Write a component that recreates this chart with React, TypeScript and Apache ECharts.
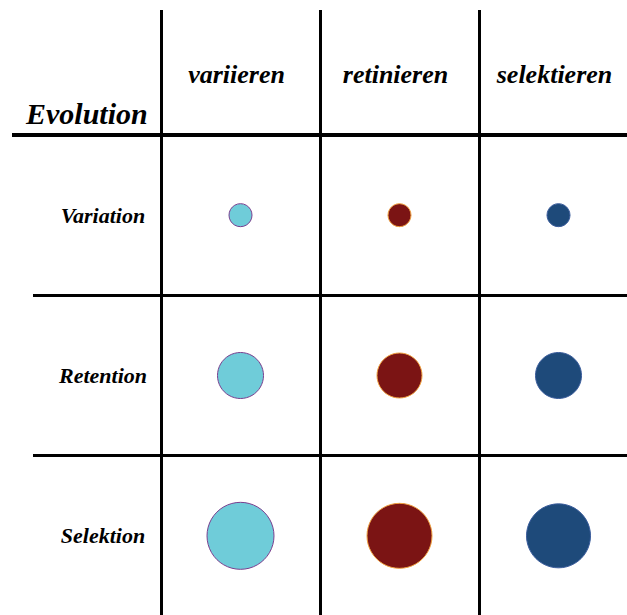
import React, { useEffect, useRef } from "react";
import * as echarts from "echarts";

const COLUMNS = ["variieren", "retinieren", "selektieren"];
const ROWS = ["Variation", "Retention", "Selektion"];
const TITLE = "Evolution";

// circle diameters per column, by row (Variation, Retention, Selektion)
const VARIIEREN_SIZES = [23, 46, 67];
const RETINIEREN_SIZES = [23, 45, 65];
const SELEKTIEREN_SIZES = [23, 46, 64];

const FILLS = ["#6FCCD9", "#7B1414", "#1E4A7A"];
const BORDERS = ["#7A3F8F", "#EFA040", "#3A5C9C"];

const GRID_LEFT = 161;
const GRID_TOP = 135;
const GRID_W = 477;
const GRID_H = 481;

const FONT = "'Liberation Serif', 'Times New Roman', serif";

export default function App() {
  const ref = useRef<HTMLDivElement>(null);
  useEffect(() => {
    if (!ref.current) return;
    const chart = echarts.init(ref.current, undefined, { renderer: "svg" });
    const sizeSets = [VARIIEREN_SIZES, RETINIEREN_SIZES, SELEKTIEREN_SIZES];
    const series = sizeSets.map((sizes, c) => ({
      type: "scatter",
      name: COLUMNS[c],
      data: sizes.map((s, r) => [c, r, s]),
      symbol: "circle",
      symbolSize: (v: number[]) => v[2],
      itemStyle: { color: FILLS[c], borderColor: BORDERS[c], borderWidth: 1, opacity: 1 },
      emphasis: { disabled: true },
    }));
    chart.setOption({
      animation: false,
      backgroundColor: "#ffffff",
      title: {
        text: TITLE,
        left: 21,
        top: 93,
        textStyle: {
          fontFamily: FONT,
          fontStyle: "italic",
          fontWeight: "bold",
          fontSize: 30,
          color: "#000",
        },
      },
      grid: { left: GRID_LEFT, top: GRID_TOP, width: GRID_W, height: GRID_H, containLabel: false },
      xAxis: {
        type: "category",
        position: "top",
        data: COLUMNS,
        boundaryGap: true,
        axisLine: { show: true, lineStyle: { color: "#000", width: 4 } },
        axisTick: { show: true, length: 125, lineStyle: { color: "#000", width: 3 } },
        splitLine: { show: true, lineStyle: { color: "#000", width: 3 } },
        axisLabel: {
          margin: 48,
          padding: [0, 8, 0, 0],
          fontFamily: FONT,
          fontStyle: "italic",
          fontWeight: "bold",
          fontSize: 26,
          color: "#000",
        },
      },
      yAxis: {
        type: "category",
        inverse: true,
        data: ROWS,
        boundaryGap: true,
        axisLine: { show: true, lineStyle: { color: "#000", width: 3 } },
        axisTick: { show: true, length: 128, lineStyle: { color: "#000", width: 3 } },
        splitLine: { show: true, lineStyle: { color: "#000", width: 3 } },
        axisLabel: {
          margin: 58,
          align: "center",
          fontFamily: FONT,
          fontStyle: "italic",
          fontWeight: "bold",
          fontSize: 22,
          color: "#000",
        },
      },
      graphic: [
        {
          type: "line",
          shape: { x1: 12, y1: GRID_TOP, x2: GRID_LEFT, y2: GRID_TOP },
          style: { stroke: "#000", lineWidth: 4 },
          z: 10,
        },
      ],
      series,
    });
    return () => chart.dispose();
  }, []);
  return (
    <div
      ref={ref}
      style={{ position: "fixed", left: 0, top: 0, width: 645, height: 622, background: "#fff" }}
    />
  );
}
